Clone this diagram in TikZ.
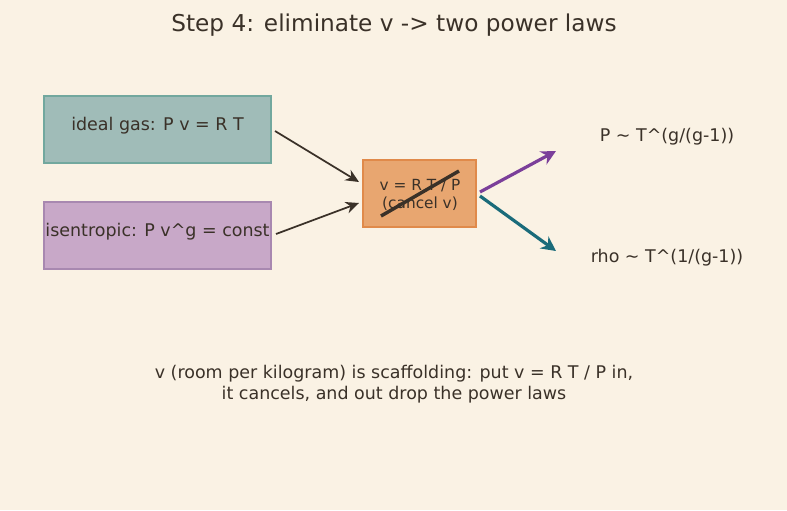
\documentclass[tikz,border=0pt]{standalone}
\usepackage{fontspec}
\setmainfont{DejaVu Sans}
\usetikzlibrary{arrows.meta}
\definecolor{bg}{HTML}{FAF2E4}
\definecolor{ink}{HTML}{3A3128}
\definecolor{tealfill}{HTML}{A0BCB8}
\definecolor{tealdraw}{HTML}{72A89E}
\definecolor{purfill}{HTML}{C8A8C8}
\definecolor{purdraw}{HTML}{A888B0}
\definecolor{orfill}{HTML}{E8A670}
\definecolor{ordraw}{HTML}{E08A4A}
\definecolor{arrpur}{HTML}{7B3F9A}
\definecolor{arrteal}{HTML}{1A6B7A}
\begin{document}
\begin{tikzpicture}[x=0.75pt,y=-0.75pt,
  txt/.style={text=ink,font=\fontsize{13.1}{15.5}\selectfont,inner sep=0pt},
  sidebox/.style={draw,line width=0.9pt,minimum width=227*0.75pt,minimum height=67*0.75pt,inner sep=0pt},
  conn/.style={draw=ink,line width=1.3pt,-{Stealth[length=10pt,width=9pt]}},
  outarr/.style={line width=2.4pt,-{Stealth[length=11pt,width=11pt]}}]
\fill[bg] (0,0) rectangle (787,510);
\useasboundingbox (0,0) rectangle (787,510);
\node[txt,font=\fontsize{17.4}{20}\selectfont] (title) at (394,25) {Step 4: eliminate v -> two power laws};
\node[sidebox,fill=tealfill,draw=tealdraw] (ideal) at (157.5,129.5) {};
\node[txt] (idealt) at (157.5,125.5) {ideal gas: P v = R T};
\node[sidebox,fill=purfill,draw=purdraw] (isen) at (157.5,235.5) {};
\node[txt] (isent) at (157.5,231.5) {isentropic: P v\textasciicircum g = const};
\node[draw=ordraw,fill=orfill,line width=0.9pt,minimum width=113*0.75pt,minimum height=67*0.75pt,inner sep=0pt] (mid) at (419.5,193.5) {};
\node[txt,font=\fontsize{11.5}{13.5}\selectfont,align=center] (midt) at (420,194.5) {v = R T / P\\(cancel v)};
\coordinate (s1) at (381,216);
\coordinate (s2) at (459,171);
\draw[ink,line width=2.6pt] (s1) -- (s2);
\coordinate (a1s) at (275,131);
\coordinate (a1e) at (359,182);
\coordinate (a2s) at (276,234);
\coordinate (a2e) at (359,203);
\draw[conn] (a1s) -- (a1e);
\draw[conn] (a2s) -- (a2e);
\coordinate (ps) at (480,192);
\coordinate (pe) at (556,151);
\coordinate (ts) at (480,196);
\coordinate (te) at (556,251);
\draw[outarr,arrpur] (ps) -- (pe);
\draw[outarr,arrteal] (ts) -- (te);
\node[txt] (plaw) at (667,137) {P \textasciitilde{} T\textasciicircum(g/(g-1))};
\node[txt] (rlaw) at (667,258) {rho \textasciitilde{} T\textasciicircum(1/(g-1))};
\node[txt,align=center,font=\fontsize{13.1}{16}\selectfont] (note) at (394,384) {v (room per kilogram) is scaffolding: put v = R T / P in,\\it cancels, and out drop the power laws};
\end{tikzpicture}
\end{document}
